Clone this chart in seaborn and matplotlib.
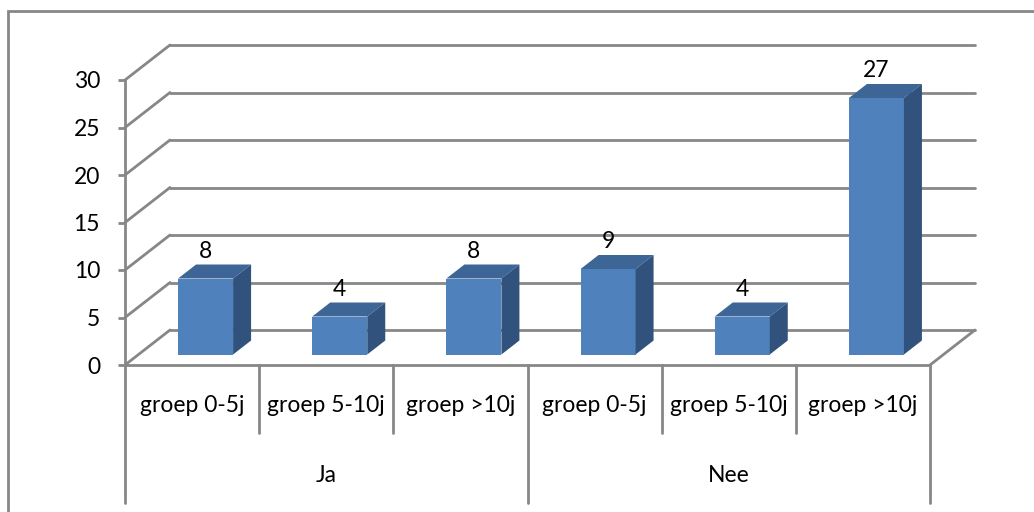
import numpy as np
import pandas as pd
import matplotlib
matplotlib.use("Agg")
import matplotlib.pyplot as plt
from matplotlib.patches import Polygon, Rectangle
from matplotlib.lines import Line2D
import seaborn as sns

# Survey counts per answer group and age group
groups = ["Ja", "Nee"]
age_groups = ["groep 0-5j", "groep 5-10j", "groep >10j"]
counts_ja = [8, 4, 8]
counts_nee = [9, 4, 27]
y_ticks = [0, 5, 10, 15, 20, 25, 30]

df = pd.DataFrame({
    "group": np.repeat(groups, len(age_groups)),
    "age": age_groups * len(groups),
    "count": counts_ja + counts_nee,
})
df["key"] = df["group"] + " / " + df["age"]

sns.set_theme(style="white")
plt.rcParams["font.family"] = ["Lato", "DejaVu Sans"]
plt.rcParams["font.weight"] = "normal"

FS = 16.5
W, H = 1034, 512
fig = plt.figure(figsize=(W / 100, H / 100), dpi=100)
# front plane of the 3D box: x 125..930 px, y 80..365 px (from top)
ax = fig.add_axes([125 / W, (H - 365) / H, 805 / W, 285 / H])

front = "#4F81BD"
top_c = "#3D6596"
side_c = "#31527C"
grid_c = "#878787"
lw = 2.0

sns.barplot(data=df, x="key", y="count", color=front, saturation=1,
            width=0.41, ax=ax, zorder=3, errorbar=None)

n = len(df)
ax.set_xlim(-0.5, n - 0.5)
ax.set_ylim(0, 30)
ax.set_xlabel("")
ax.set_ylabel("")
ax.set_xticks([])
for s in ["top", "right", "bottom", "left"]:
    ax.spines[s].set_visible(False)

# depth of the box in data units (45 px right, 35 px up)
px_x = 805 / n
px_y = 285 / 30
DX, DY = 45 / px_x, 35 / px_y
f0, f1 = 0.3, 0.7  # bar depth span as fraction of the box depth

# back wall gridlines and the left side wall lines
for v in y_ticks:
    ax.add_line(Line2D([-0.5 + DX, n - 0.5 + DX], [v + DY, v + DY],
                       color=grid_c, lw=lw, clip_on=False, zorder=1))
    ax.add_line(Line2D([-0.5, -0.5 + DX], [v, v + DY],
                       color=grid_c, lw=lw, clip_on=False, zorder=1))
# floor right edge
ax.add_line(Line2D([n - 0.5, n - 0.5 + DX], [0, DY],
                   color=grid_c, lw=lw, clip_on=False, zorder=1))
# front axis lines
ax.add_line(Line2D([-0.5, -0.5], [0, 30], color=grid_c, lw=lw,
                   clip_on=False, zorder=2))
ax.add_line(Line2D([-0.5, n - 0.5], [0, 0], color=grid_c, lw=lw,
                   clip_on=False, zorder=2))

# y ticks
ax.set_yticks(y_ticks)
ax.set_yticklabels([str(t) for t in y_ticks])
ax.tick_params(axis="y", left=True, length=5.0, width=lw, color=grid_c,
               pad=13, labelsize=FS, labelcolor="black")
ax.spines["left"].set_visible(False)

# extrude bars into 3D blocks
for patch, val in zip(ax.patches, df["count"]):
    x0 = patch.get_x()
    w = patch.get_width()
    patch.set_x(x0 + f0 * DX)
    patch.set_y(f0 * DY)
    patch.set_edgecolor("none")
    xa, xb = x0 + f0 * DX, x0 + w + f0 * DX
    yb, yt = f0 * DY, val + f0 * DY
    ddx, ddy = (f1 - f0) * DX, (f1 - f0) * DY
    ax.add_patch(Polygon([(xa, yt), (xb, yt), (xb + ddx, yt + ddy),
                          (xa + ddx, yt + ddy)], closed=True,
                         facecolor=top_c, edgecolor="none", zorder=3,
                         clip_on=False))
    ax.add_patch(Polygon([(xb, yb), (xb + ddx, yb + ddy),
                          (xb + ddx, yt + ddy), (xb, yt)], closed=True,
                         facecolor=side_c, edgecolor="none", zorder=3,
                         clip_on=False))
    ax.text((xa + xb) / 2, yt + ddy + 0.3, f"{val:g}", ha="center",
            va="bottom", fontsize=FS, color="black", zorder=4, clip_on=False)

# hierarchical category axis
trans = ax.get_xaxis_transform()
ax_h = 285
for i, lab in enumerate(df["age"]):
    ax.text(i, -40 / ax_h, lab, transform=trans, ha="center", va="center",
            fontsize=FS, color="black")
for b in range(n + 1):
    x = b - 0.5
    is_group = b % len(age_groups) == 0
    y_end = -138 / ax_h if is_group else -68 / ax_h
    ax.add_line(Line2D([x, x], [0, y_end], transform=trans, color=grid_c,
                       lw=lw, clip_on=False, zorder=2))
for gi, g in enumerate(groups):
    cx = gi * len(age_groups) + (len(age_groups) - 1) / 2
    ax.text(cx, -110 / ax_h, g, transform=trans, ha="center", va="center",
            fontsize=FS, color="black")

# chart area border
fig.patches.append(Rectangle((8 / W, -0.1), 1.2, 1.1 - 11 / H,
                             transform=fig.transFigure, fill=False,
                             edgecolor=grid_c, lw=lw, zorder=0))

fig.savefig("out.png", dpi=100, facecolor="white")
